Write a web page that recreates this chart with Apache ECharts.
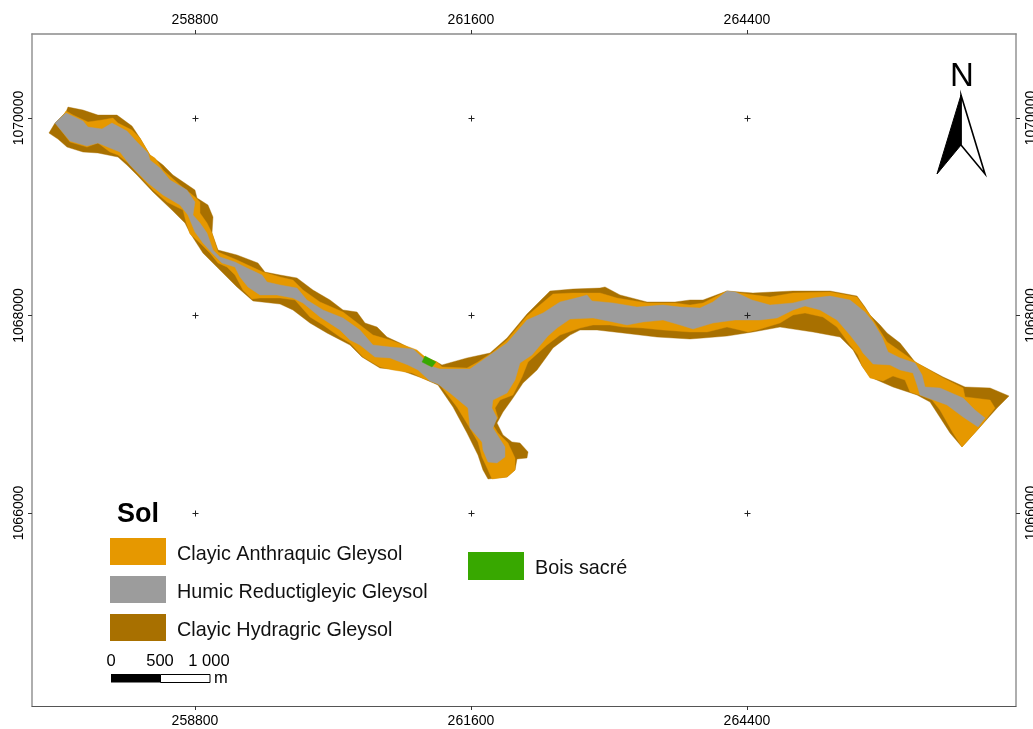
<!DOCTYPE html>
<html><head><meta charset="utf-8">
<style>html,body{margin:0;padding:0;background:#fff;overflow:hidden}#c{width:1033px;height:729px}</style>
<script src="https://cdn.jsdelivr.net/npm/echarts@6/dist/echarts.min.js"></script>
</head><body><div id="c"></div>
<script>
// Map extent (projected metres)
var xExtent = [257147, 267129];
var yExtent = [1064045, 1070851];
var xTicks = [258800, 261600, 264400];
var yTicks = [1066000, 1068000, 1070000];
var legendSoils = ["Clayic Anthraquic Gleysol", "Humic Reductigleyic Gleysol", "Clayic Hydragric Gleysol"];

// Outer footprint = Clayic Hydragric Gleysol
var hydragric = [[257512,1070111],[257664,1070081],[257816,1070030],[258009,1070030],[258161,1069919],[258242,1069797],[258344,1069625],[258476,1069524],[258577,1069423],[258800,1069271],[258821,1069190],[258932,1069119],[258983,1068997],[258973,1068835],[259034,1068663],[259226,1068613],[259439,1068532],[259510,1068440],[259663,1068410],[259835,1068380],[259997,1068258],[260170,1068157],[260302,1068056],[260444,1068035],[260525,1067924],[260647,1067883],[260748,1067782],[260880,1067721],[261052,1067630],[261134,1067580],[261255,1067529],[261306,1067499],[261560,1067570],[261793,1067620],[261966,1067772],[262168,1068015],[262402,1068248],[262635,1068268],[262909,1068278],[262960,1068289],[263112,1068208],[263386,1068137],[263670,1068137],[263822,1068157],[263954,1068157],[264197,1068248],[264461,1068228],[264867,1068248],[265242,1068248],[265516,1068197],[265597,1068086],[265648,1068005],[265750,1067904],[265821,1067823],[265953,1067721],[266105,1067529],[266389,1067377],[266612,1067276],[266866,1067266],[267058,1067185],[266937,1067063],[266764,1066871],[266581,1066668],[266460,1066810],[266257,1067124],[266125,1067195],[265881,1067276],[265648,1067377],[265567,1067489],[265476,1067651],[265344,1067782],[265070,1067833],[264735,1067883],[264461,1067833],[264197,1067792],[263954,1067772],[263822,1067762],[263487,1067782],[263142,1067823],[262879,1067853],[262706,1067853],[262605,1067802],[262432,1067671],[262270,1067448],[262128,1067316],[262026,1067164],[261925,1067023],[261864,1066911],[261925,1066790],[262016,1066719],[262097,1066709],[262179,1066618],[262168,1066557],[262067,1066547],[262047,1066435],[261966,1066364],[261773,1066344],[261722,1066435],[261671,1066587],[261560,1066810],[261418,1067073],[261265,1067296],[261103,1067367],[260880,1067448],[260677,1067468],[260494,1067580],[260373,1067701],[260139,1067823],[259967,1067924],[259794,1068056],[259663,1068116],[259389,1068147],[259226,1068289],[259023,1068491],[258881,1068633],[258750,1068835],[258699,1068937],[258567,1069068],[258374,1069251],[258212,1069423],[258110,1069524],[258019,1069605],[257816,1069646],[257664,1069656],[257502,1069706],[257410,1069787],[257319,1069848],[257380,1069949],[257492,1070061]];

// Clayic Anthraquic Gleysol, laid over the footprint
var anthraquic = [[257492,1070071],[257563,1070030],[257715,1069960],[257857,1069980],[257968,1070000],[258019,1069949],[258161,1069878],[258242,1069797],[258344,1069625],[258394,1069595],[258476,1069473],[258648,1069322],[258800,1069200],[258851,1069149],[258851,1069038],[258922,1068937],[258973,1068835],[259034,1068643],[259226,1068562],[259490,1068440],[259663,1068390],[259794,1068359],[259896,1068258],[260068,1068137],[260302,1068035],[260474,1067904],[260606,1067802],[260779,1067752],[261052,1067651],[261134,1067580],[261255,1067529],[261306,1067478],[261560,1067468],[261671,1067529],[261823,1067630],[261966,1067752],[262168,1067995],[262432,1068218],[262635,1068228],[262909,1068228],[263081,1068177],[263386,1068127],[263670,1068127],[263822,1068106],[263954,1068127],[264197,1068248],[264400,1068218],[264634,1068187],[264867,1068228],[265242,1068238],[265516,1068187],[265648,1068005],[265821,1067732],[266125,1067519],[266389,1067367],[266592,1067266],[266612,1067175],[266866,1067144],[266916,1067063],[266764,1066871],[266581,1066668],[266490,1066810],[266358,1067043],[266277,1067144],[266176,1067185],[266054,1067225],[266003,1067347],[265881,1067387],[265780,1067337],[265648,1067367],[265567,1067489],[265526,1067600],[265445,1067701],[265313,1067883],[265171,1067985],[264989,1068025],[264867,1068005],[264735,1067924],[264502,1067853],[264410,1067833],[264329,1067853],[264197,1067883],[263995,1067833],[263822,1067833],[263548,1067853],[263345,1067873],[263142,1067883],[263010,1067904],[262838,1067904],[262706,1067873],[262503,1067802],[262371,1067701],[262179,1067529],[262118,1067377],[262026,1067195],[261895,1067144],[261844,1067063],[261874,1066962],[261823,1066891],[261874,1066810],[261976,1066709],[262047,1066557],[262047,1066435],[261966,1066364],[261813,1066344],[261773,1066435],[261712,1066567],[261671,1066719],[261570,1066891],[261458,1067073],[261286,1067296],[261103,1067367],[261002,1067418],[260809,1067448],[260677,1067478],[260505,1067580],[260373,1067721],[260271,1067782],[260099,1067904],[259967,1067985],[259815,1068157],[259663,1068177],[259460,1068177],[259379,1068167],[259287,1068258],[259206,1068410],[259125,1068491],[259034,1068532],[258952,1068633],[258851,1068734],[258750,1068825],[258709,1068947],[258679,1069068],[258516,1069149],[258374,1069271],[258212,1069443],[258121,1069544],[258019,1069625],[257938,1069656],[257816,1069747],[257705,1069706],[257532,1069757],[257400,1069929]];

// Humic Reductigleyic Gleysol, the central strip
var reductigleyic = [[257380,1069949],[257492,1070051],[257664,1069970],[257715,1069909],[257857,1069889],[257958,1069949],[258110,1069868],[258212,1069757],[258323,1069646],[258344,1069575],[258445,1069494],[258547,1069372],[258719,1069271],[258800,1069149],[258780,1069018],[258851,1068937],[258922,1068835],[258983,1068663],[259054,1068592],[259206,1068542],[259328,1068481],[259480,1068410],[259531,1068339],[259663,1068309],[259835,1068278],[259936,1068157],[260099,1068056],[260302,1067975],[260474,1067853],[260606,1067701],[260779,1067681],[261012,1067661],[261113,1067570],[261154,1067499],[261286,1067458],[261590,1067458],[261793,1067600],[261966,1067721],[262168,1067954],[262331,1068025],[262503,1068137],[262706,1068187],[262777,1068208],[262828,1068147],[263041,1068127],[263284,1068086],[263548,1068106],[263721,1068086],[263924,1068076],[264055,1068137],[264197,1068248],[264279,1068238],[264451,1068157],[264634,1068106],[264867,1068127],[265070,1068177],[265242,1068197],[265445,1068157],[265597,1068035],[265679,1067934],[265770,1067782],[265831,1067630],[265953,1067570],[266105,1067519],[266176,1067397],[266206,1067276],[266358,1067266],[266592,1067164],[266713,1067043],[266815,1066962],[266744,1066871],[266592,1066972],[266429,1067094],[266155,1067195],[266125,1067296],[266084,1067418],[265953,1067448],[265851,1067499],[265679,1067509],[265577,1067620],[265547,1067671],[265445,1067802],[265313,1067954],[265141,1068056],[264989,1068096],[264867,1068056],[264705,1067975],[264532,1067954],[264279,1067954],[264055,1067924],[263852,1067863],[263721,1067904],[263548,1067954],[263345,1067934],[263183,1067904],[263041,1067934],[262838,1067975],[262605,1067964],[262473,1067873],[262381,1067792],[262219,1067600],[262097,1067519],[262047,1067347],[261966,1067215],[261823,1067144],[261813,1067063],[261864,1066962],[261823,1066861],[261945,1066668],[261945,1066567],[261864,1066506],[261773,1066516],[261722,1066638],[261712,1066719],[261590,1066861],[261570,1067063],[261387,1067215],[261265,1067306],[261184,1067337],[261063,1067448],[260961,1067499],[260779,1067570],[260626,1067580],[260474,1067701],[260373,1067752],[260271,1067853],[260068,1067985],[259896,1068127],[259794,1068177],[259632,1068208],[259460,1068208],[259338,1068289],[259257,1068390],[259206,1068491],[259074,1068532],[258973,1068633],[258881,1068734],[258800,1068846],[258729,1069018],[258648,1069119],[258476,1069220],[258323,1069342],[258141,1069524],[258039,1069656],[257938,1069696],[257816,1069747],[257705,1069716],[257532,1069767]];

// Sacred grove
var boisSacre = [[261134,1067590],[261245,1067529],[261205,1067478],[261103,1067529]];

var crossPoints = [];
xTicks.forEach(function (x) { yTicks.forEach(function (y) { crossPoints.push([x, y]); }); });

var FONT = '"Liberation Sans", Arial, sans-serif';
var legendText = {
  fontFamily: FONT, fontSize: 19.8, color: '#111',
  rich: { t: { fontFamily: FONT, fontSize: 19.8, color: '#111', padding: [6, 0, 0, 6] } }
};
function legendFormatter(name) { return '{t|' + name + '}'; }

function polygonSeries(name, pts, color) {
  return {
    name: name, type: 'custom', coordinateSystem: 'cartesian2d', xAxisIndex: 0, yAxisIndex: 0,
    data: pts, encode: { x: 0, y: 1 }, itemStyle: { color: color }, silent: true,
    renderItem: function (params, api) {
      if (params.dataIndex !== 0) return null;
      return { type: 'polygon',
        shape: { points: pts.map(function (p) { return api.coord(p); }) },
        style: { fill: color, stroke: color, lineWidth: 0.4 } };
    }
  };
}

function xAxisCfg(pos, lineColor, lineW, margin) {
  return { type: 'value', position: pos, min: xExtent[0], max: xExtent[1], scale: true,
    splitLine: { show: false },
    axisLine: { show: true, onZero: false, lineStyle: { color: lineColor, width: lineW } },
    axisTick: { show: true, customValues: xTicks, length: 4, lineStyle: { color: '#333' } },
    axisLabel: { show: true, customValues: xTicks, formatter: String, fontFamily: FONT, fontSize: 14, color: '#000', margin: margin } };
}
function yAxisCfg(pos, margin) {
  return { type: 'value', position: pos, min: yExtent[0], max: yExtent[1], scale: true,
    splitLine: { show: false },
    axisLine: { show: true, onZero: false, lineStyle: { color: '#9a9a9a', width: 1.6 } },
    axisTick: { show: true, customValues: yTicks, length: 4, lineStyle: { color: '#333' } },
    axisLabel: { show: true, customValues: yTicks, formatter: String, rotate: 90, fontFamily: FONT, fontSize: 14, color: '#000', margin: margin } };
}

var chart = echarts.init(document.getElementById('c'), null, { renderer: 'canvas' });
chart.setOption({
  animation: false,
  backgroundColor: '#fff',
  grid: { left: 32, right: 17, top: 34, bottom: 23, containLabel: false, outerBoundsMode: 'none' },
  xAxis: [xAxisCfg('bottom', '#555', 1.2, 8), xAxisCfg('top', '#8a8a8a', 1.6, 7)],
  yAxis: [yAxisCfg('left', 6), yAxisCfg('right', 8)],
  legend: [
    { data: legendSoils, orient: 'vertical', left: 110, top: 538, itemWidth: 56, itemHeight: 27, itemGap: 11, icon: 'rect',
      selectedMode: false, padding: 0, formatter: legendFormatter, textStyle: legendText },
    { data: ['Bois sacré'], orient: 'vertical', left: 468, top: 552, itemWidth: 56, itemHeight: 28, icon: 'rect',
      selectedMode: false, padding: 0, formatter: legendFormatter, textStyle: legendText }
  ],
  series: [
    polygonSeries(legendSoils[2], hydragric, '#A87000'),
    polygonSeries(legendSoils[0], anthraquic, '#E69800'),
    polygonSeries(legendSoils[1], reductigleyic, '#9C9C9C'),
    polygonSeries('Bois sacré', boisSacre, '#38A800'),
    { name: 'grid crosses', type: 'custom', coordinateSystem: 'cartesian2d', xAxisIndex: 0, yAxisIndex: 0,
      data: crossPoints, encode: { x: 0, y: 1 }, silent: true, z: 5,
      renderItem: function (params, api) {
        var c = api.coord([api.value(0), api.value(1)]);
        var x = Math.round(c[0]) + 0.5, y = Math.round(c[1]) + 0.5;
        return { type: 'group', children: [
          { type: 'line', shape: { x1: x - 3, y1: y, x2: x + 3, y2: y }, style: { stroke: '#222', lineWidth: 1 } },
          { type: 'line', shape: { x1: x, y1: y - 3, x2: x, y2: y + 3 }, style: { stroke: '#222', lineWidth: 1 } }
        ] };
      } }
  ],
  graphic: [
    { type: 'text', left: 117, top: 501, style: { text: 'Sol', font: 'bold 27px ' + FONT, fill: '#000' } },
    { type: 'text', x: 111, y: 661, style: { text: '0', font: '16.5px ' + FONT, fill: '#000', align: 'center', verticalAlign: 'middle' } },
    { type: 'text', x: 160, y: 661, style: { text: '500', font: '16.5px ' + FONT, fill: '#000', align: 'center', verticalAlign: 'middle' } },
    { type: 'text', x: 209, y: 661, style: { text: '1 000', font: '16.5px ' + FONT, fill: '#000', align: 'center', verticalAlign: 'middle' } },
    { type: 'text', x: 214, y: 678, style: { text: 'm', font: '16.5px ' + FONT, fill: '#000', align: 'left', verticalAlign: 'middle' } },
    { type: 'rect', shape: { x: 111, y: 674, width: 49.5, height: 8.5 }, style: { fill: '#000' } },
    { type: 'rect', shape: { x: 160.5, y: 674.5, width: 49.5, height: 8 }, style: { fill: '#fff', stroke: '#000', lineWidth: 1 } },
    { type: 'text', x: 962, y: 77, style: { text: 'N', font: '33px ' + FONT, fill: '#000', align: 'center', verticalAlign: 'middle' } },
    { type: 'polygon', shape: { points: [[961, 95], [985, 174], [961, 145]] }, style: { fill: '#fff', stroke: '#000', lineWidth: 1.6 } },
    { type: 'polygon', shape: { points: [[961, 95], [937, 174], [961, 145]] }, style: { fill: '#000', stroke: '#000', lineWidth: 1 } }
  ]
});
</script></body></html>
